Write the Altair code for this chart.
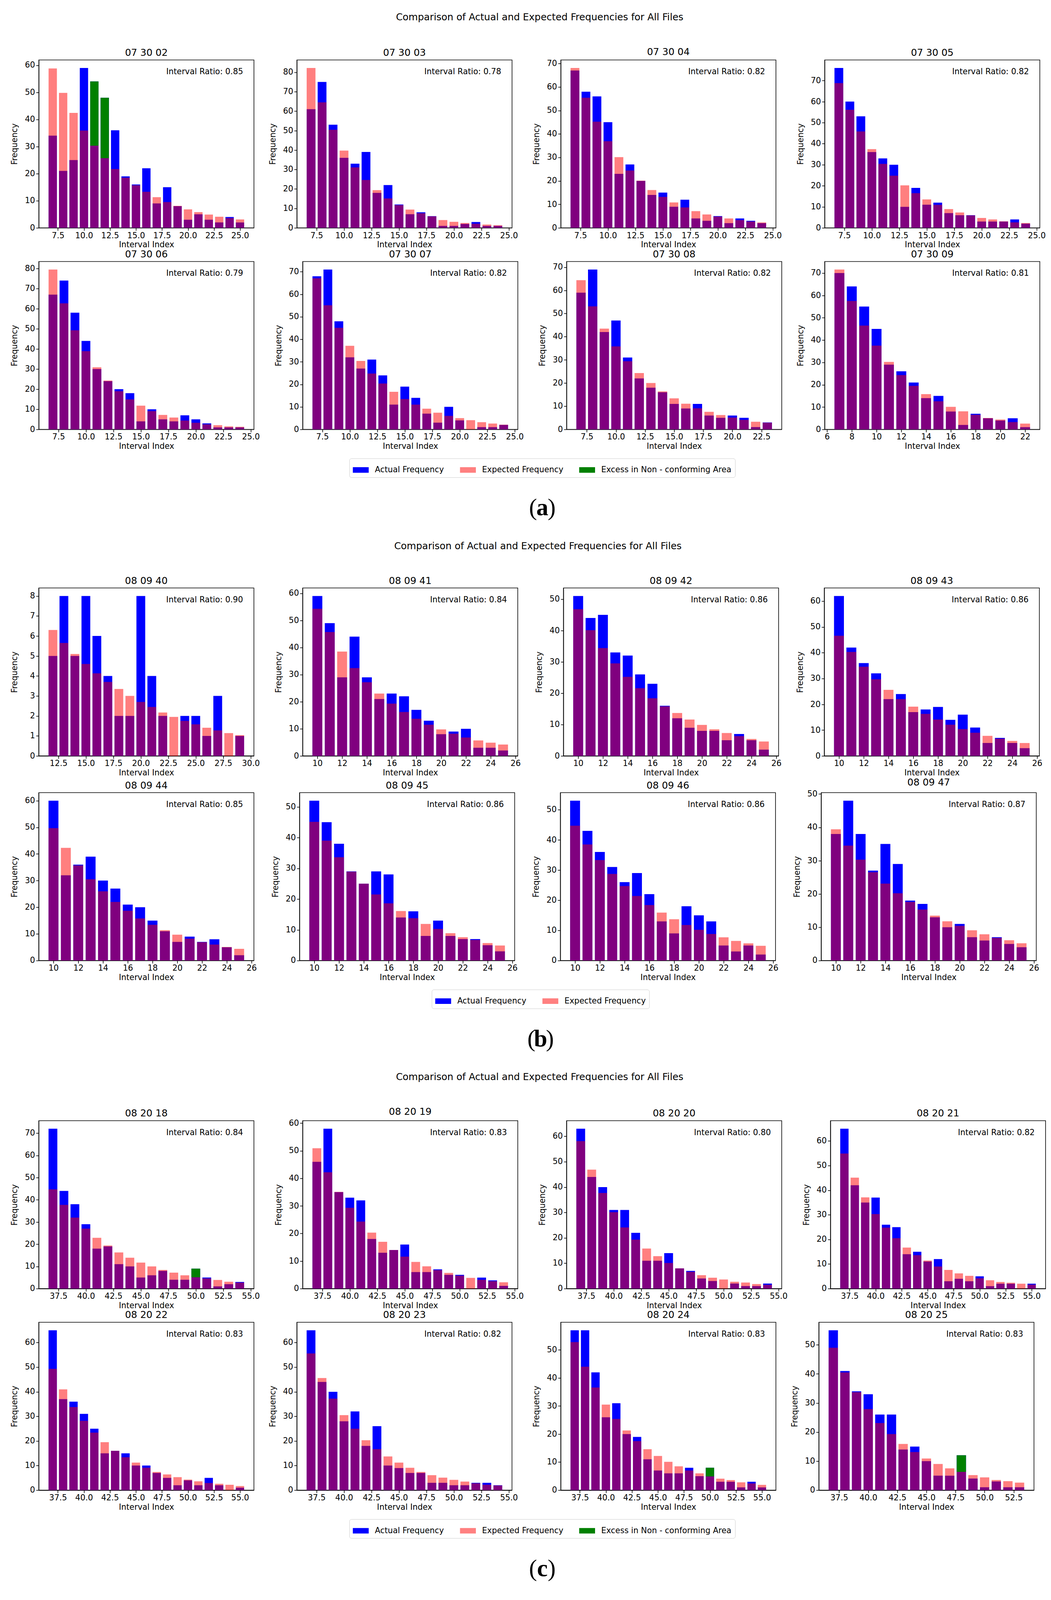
import altair as alt
import pandas as pd

FONT = "DejaVu Sans"
SUPTITLE = "Comparison of Actual and Expected Frequencies for All Files"

# ---------------- figure (a) ----------------
A_NAMES = ["07 30 02", "07 30 03", "07 30 04", "07 30 05", "07 30 06", "07 30 07", "07 30 08", "07 30 09"]
A_RATIOS = [0.85, 0.78, 0.82, 0.82, 0.79, 0.82, 0.82, 0.81]
A_START = [7, 7, 7, 7, 7, 7, 7, 7]
A_ACTUAL = [
    [34, 21, 25, 59, 54, 48, 36, 19, 16, 22, 9, 15, 8, 3, 5, 3, 2, 4, 2],
    [61, 75, 53, 36, 33, 39, 18, 22, 12, 7, 8, 6, 1, 1, 2, 3, 1, 1],
    [67, 58, 56, 45, 23, 27, 20, 14, 15, 9, 12, 4, 3, 5, 2, 4, 3, 2],
    [76, 60, 53, 36, 33, 30, 10, 19, 11, 12, 7, 6, 6, 3, 3, 3, 4, 2],
    [67, 74, 58, 44, 30, 24, 20, 18, 4, 10, 5, 4, 7, 5, 3, 1, 1, 1],
    [68, 71, 48, 32, 27, 31, 24, 11, 19, 14, 7, 3, 10, 4, 0, 1, 1, 2],
    [59, 69, 42, 47, 31, 22, 18, 16, 11, 9, 11, 6, 5, 6, 5, 1, 3],
    [70, 64, 55, 45, 29, 26, 21, 14, 15, 8, 2, 7, 5, 4, 5, 1],
]
A_EXPECTED = [
    [58.8, 49.8, 42.4, 35.9, 30.3, 25.7, 21.7, 18.5, 15.7, 13.3, 11.3, 9.5, 8.1, 6.8, 5.8, 4.9, 4.1, 3.6, 3.1],
    [82.2, 64.5, 50.4, 39.7, 31.1, 24.6, 19.4, 15.1, 11.7, 9.4, 7.5, 5.9, 4.0, 3.1, 2.5, 2.1, 1.7, 1.35],
    [68.1, 55.4, 45.2, 36.9, 30.1, 24.4, 20.1, 16.1, 13.2, 10.8, 8.7, 7.1, 5.7, 4.8, 4.0, 3.3, 2.7, 2.3],
    [68.8, 56.1, 45.8, 37.4, 30.4, 24.8, 20.2, 16.5, 13.5, 10.9, 8.9, 7.3, 5.9, 4.7, 4.0, 3.1, 2.6, 2.3],
    [79.5, 62.7, 49.3, 38.9, 30.9, 24.3, 19.0, 14.9, 11.8, 9.1, 7.2, 5.9, 4.4, 3.3, 2.5, 2.1, 1.5, 1.3],
    [67.1, 55.1, 45.1, 37.1, 30.4, 24.8, 20.4, 16.7, 13.5, 11.0, 9.2, 7.4, 6.0, 5.0, 4.1, 3.2, 2.6, 2.1],
    [64.4, 53.1, 43.5, 35.8, 29.4, 24.3, 20.0, 16.4, 13.4, 11.1, 9.1, 7.6, 6.2, 5.1, 4.1, 3.3, 2.9],
    [71.6, 57.5, 46.5, 37.5, 30.2, 24.3, 19.5, 15.8, 12.6, 10.1, 8.1, 6.5, 5.1, 4.4, 3.3, 2.6],
]
A_EXCESS = [[11, 12], [], [], [], [], [], [], []]
A_XTICKS = [[7.5, 10, 12.5, 15, 17.5, 20, 22.5, 25]] * 6 + [
    [7.5, 10, 12.5, 15, 17.5, 20, 22.5],
    [6, 8, 10, 12, 14, 16, 18, 20, 22],
]
A_LEGEND = ["Actual Frequency", "Expected Frequency", "Excess in Non - conforming Area"]

# ---------------- figure (b) ----------------
B_NAMES = ["08 09 40", "08 09 41", "08 09 42", "08 09 43", "08 09 44", "08 09 45", "08 09 46", "08 09 47"]
B_RATIOS = [0.90, 0.84, 0.86, 0.86, 0.85, 0.86, 0.86, 0.87]
B_START = [12, 10, 10, 10, 10, 10, 10, 10]
B_ACTUAL = [
    [5, 8, 5, 8, 6, 4, 2, 2, 8, 4, 2, 0, 2, 2, 1, 3, 0, 1],
    [59, 49, 29, 44, 29, 21, 23, 22, 17, 13, 8, 9, 10, 3, 3, 2],
    [51, 44, 45, 33, 32, 26, 23, 16, 12, 9, 8, 8, 5, 7, 5, 2],
    [62, 42, 36, 32, 22, 24, 17, 18, 19, 14, 16, 11, 5, 7, 5, 3],
    [60, 32, 36, 39, 30, 27, 21, 20, 15, 11, 7, 9, 7, 8, 5, 2],
    [52, 45, 38, 29, 25, 29, 28, 14, 16, 8, 13, 8, 7, 7, 5, 3],
    [53, 43, 36, 31, 26, 29, 22, 13, 9, 18, 15, 13, 5, 3, 5, 2],
    [38, 48, 38, 27, 35, 29, 18, 17, 13, 10, 11, 7, 6, 7, 5, 4],
]
B_EXPECTED = [
    [6.3, 5.65, 5.1, 4.6, 4.13, 3.7, 3.35, 3.0, 2.7, 2.45, 2.17, 1.95, 1.75, 1.58, 1.41, 1.28, 1.14, 1.04],
    [54.3, 45.7, 38.5, 32.4, 27.2, 23.0, 19.3, 16.2, 13.7, 11.5, 9.8, 8.2, 6.8, 5.7, 4.9, 4.2],
    [46.8, 40.1, 34.4, 29.5, 25.2, 21.6, 18.4, 15.8, 13.7, 11.6, 9.9, 8.5, 7.3, 6.3, 5.4, 4.6],
    [46.6, 40.3, 34.6, 29.7, 25.6, 22.0, 19.1, 16.3, 14.1, 12.1, 10.4, 9.0, 7.8, 6.7, 5.8, 5.0],
    [49.7, 42.3, 35.7, 30.5, 26.0, 22.0, 18.7, 15.8, 13.4, 11.4, 9.7, 8.2, 6.9, 6.0, 5.1, 4.4],
    [45.1, 39.0, 33.6, 28.9, 25.0, 21.5, 18.6, 16.1, 13.8, 11.9, 10.3, 8.9, 7.6, 6.7, 5.7, 4.9],
    [44.7, 38.5, 33.3, 28.7, 24.7, 21.4, 18.4, 15.9, 13.7, 11.8, 10.2, 8.8, 7.7, 6.5, 5.7, 4.9],
    [39.4, 34.5, 30.3, 26.5, 23.1, 20.2, 17.6, 15.3, 13.5, 11.8, 10.4, 9.1, 7.9, 6.8, 6.1, 5.2],
]
B_EXCESS = [[], [], [], [], [], [], [], []]
B_XTICKS = [[12.5, 15, 17.5, 20, 22.5, 25, 27.5, 30]] + [[10, 12, 14, 16, 18, 20, 22, 24, 26]] * 7
B_LEGEND = ["Actual Frequency", "Expected Frequency"]

# ---------------- figure (c) ----------------
C_NAMES = ["08 20 18", "08 20 19", "08 20 20", "08 20 21", "08 20 22", "08 20 23", "08 20 24", "08 20 25"]
C_RATIOS = [0.84, 0.83, 0.80, 0.82, 0.83, 0.82, 0.83, 0.83]
C_START = [37, 37, 37, 37, 37, 37, 37, 37]
C_ACTUAL = [
    [72, 44, 38, 29, 18, 19, 11, 10, 5, 6, 8, 4, 4, 9, 5, 1, 2, 3],
    [46, 58, 35, 33, 32, 18, 13, 14, 16, 6, 6, 7, 5, 5, 0, 4, 3, 1],
    [63, 44, 40, 31, 31, 22, 11, 11, 14, 8, 7, 4, 3, 0, 2, 1, 1, 2],
    [65, 42, 35, 37, 26, 25, 14, 15, 11, 12, 3, 4, 3, 5, 1, 2, 2, 0, 2],
    [65, 37, 36, 31, 25, 15, 16, 15, 10, 10, 7, 5, 2, 4, 2, 5, 2, 0, 1],
    [65, 44, 40, 28, 32, 18, 26, 10, 9, 7, 7, 3, 3, 2, 2, 3, 3, 2],
    [57, 57, 42, 26, 31, 20, 19, 11, 7, 6, 6, 8, 5, 8, 3, 3, 1, 3, 1],
    [55, 41, 34, 33, 26, 26, 14, 15, 10, 5, 5, 12, 4, 1, 3, 1, 1],
]
C_EXPECTED = [
    [44.7, 37.7, 32.0, 27.0, 22.9, 19.4, 16.3, 13.9, 11.7, 10.0, 8.4, 7.2, 6.0, 5.1, 4.6, 3.9, 3.1, 2.7],
    [50.9, 42.2, 35.1, 29.3, 24.3, 20.3, 17.0, 14.0, 11.6, 9.7, 8.1, 6.7, 5.7, 4.7, 3.9, 3.2, 2.7, 2.3],
    [58.1, 46.9, 37.7, 30.1, 24.1, 19.3, 15.8, 12.8, 10.1, 8.0, 6.6, 5.3, 4.3, 3.6, 2.7, 2.4, 1.8, 1.5],
    [54.9, 45.1, 37.1, 30.3, 24.8, 20.5, 16.7, 13.6, 11.4, 9.0, 7.6, 6.2, 5.2, 4.2, 3.4, 2.7, 2.4, 2.0, 1.6],
    [49.3, 41.0, 33.8, 28.2, 23.4, 19.5, 16.0, 13.4, 11.2, 9.1, 7.4, 6.4, 5.3, 4.3, 3.6, 2.9, 2.6, 2.2, 1.7],
    [55.6, 45.6, 37.2, 30.5, 25.0, 20.3, 16.7, 13.7, 11.2, 9.1, 7.4, 6.1, 5.1, 4.2, 3.5, 2.8, 2.2, 1.9],
    [52.8, 44.0, 36.6, 30.5, 25.4, 21.3, 17.5, 14.6, 12.2, 10.1, 8.5, 7.0, 6.0, 4.9, 4.1, 3.6, 2.8, 2.4, 1.9],
    [49.0, 40.5, 33.7, 27.9, 23.1, 19.3, 15.9, 13.1, 10.9, 9.0, 7.5, 6.3, 5.2, 4.4, 3.5, 3.1, 2.6],
]
C_EXCESS = [[50], [], [], [], [], [], [50], [48]]
C_XTICKS = [[37.5, 40, 42.5, 45, 47.5, 50, 52.5, 55]] * 7 + [[37.5, 40, 42.5, 45, 47.5, 50, 52.5]]
C_LEGEND = ["Actual Frequency", "Expected Frequency", "Excess in Non - conforming Area"]

LEGEND_COLORS = ["#0000ff", "#ff8080", "#008000"]

W, H = 556, 434
FS = 20.7
TAG_H = 118


def panel(name, ratio, start, actual, expected, excess, xticks):
    idx = list(range(start, start + len(actual)))
    df = pd.DataFrame({"idx": idx, "actual": actual, "expected": expected,
                       "excess": [i in excess for i in idx]})
    lo, hi = idx[0] - 0.4, idx[-1] + 0.4
    pad = 0.05 * (hi - lo)
    ymax = max(max(actual), max(expected)) * 1.05
    ystep = 1 if ymax < 15 else 10
    yticks = list(range(0, int(ymax) + 1, ystep))
    xfmt = ".1f" if any(t != int(t) for t in xticks) else "d"
    xs = alt.Scale(domain=[lo - pad, hi + pad], nice=False, zero=False)
    ys = alt.Scale(domain=[0, ymax], nice=False, zero=True)
    xax = alt.Axis(values=xticks, format=xfmt, title="Interval Index")
    yax = alt.Axis(values=yticks, format="d", title="Frequency")
    base = alt.Chart(df).transform_calculate(x0="datum.idx - 0.4", x1="datum.idx + 0.4", z="0")
    X = alt.X("x0:Q", scale=xs, axis=xax)
    blue = base.mark_rect(color="#0000ff", strokeWidth=0).encode(
        x=X, x2="x1:Q", y=alt.Y("actual:Q", scale=ys, axis=yax), y2="z:Q")
    green = base.transform_filter("datum.excess").mark_rect(color="#008000", strokeWidth=0).encode(
        x=X, x2="x1:Q", y=alt.Y("actual:Q", scale=ys, axis=yax), y2="expected:Q")
    red = base.mark_rect(color="#ff0000", opacity=0.5, strokeWidth=0).encode(
        x=X, x2="x1:Q", y=alt.Y("expected:Q", scale=ys, axis=yax), y2="z:Q")
    txt = alt.Chart(pd.DataFrame({"t": [f"Interval Ratio: {ratio:.2f}"]})).mark_text(
        align="right", baseline="top", font=FONT, fontSize=FS, color="black"
    ).encode(text="t:N", x=alt.value(W - 28), y=alt.value(21))
    return alt.layer(blue, green, red, txt).properties(
        width=W, height=H,
        title=alt.TitleParams(name, fontSize=24.8, font=FONT, fontWeight="normal",
                              anchor="middle", offset=6, color="black"))


def legend_chart(labels):
    return alt.Chart(pd.DataFrame({"series": labels})).mark_square(opacity=0, size=1).encode(
        x=alt.value(0), y=alt.value(0),
        color=alt.Color("series:N",
                        scale=alt.Scale(domain=labels, range=LEGEND_COLORS[:len(labels)]),
                        legend=alt.Legend(orient="none", legendX=0, legendY=0,
                                          direction="horizontal", title=None,
                                          labelFont=FONT, labelFontSize=FS, labelColor="black",
                                          labelLimit=600, labelOffset=16,
                                          symbolType="M-1,-0.35H1V0.35H-1Z", symbolSize=41 * 41,
                                          symbolOpacity=1, symbolStrokeWidth=0,
                                          columnPadding=41, padding=9,
                                          strokeColor="#cccccc", cornerRadius=5,
                                          fillColor="white"))
    ).properties(width=1, height=42, view=alt.ViewBackground(strokeOpacity=0))


def tag_chart(letter):
    df = pd.DataFrame({"t": ["(", letter, ")"], "w": ["normal", "bold", "normal"],
                       "k": [0, 1, 2]})
    base = alt.Chart(df)
    xk = alt.X("k:O", axis=None, scale=alt.Scale(paddingOuter=0.2))
    paren = base.transform_filter("datum.w == 'normal'").mark_text(
        font="Liberation Serif", fontSize=62, color="black", baseline="middle", align="center"
    ).encode(text="t:N", x=xk, y=alt.value(TAG_H / 2))
    bold = base.transform_filter("datum.w == 'bold'").mark_text(
        font="Liberation Serif", fontSize=62, fontWeight="bold", color="black",
        baseline="middle", align="center"
    ).encode(text="t:N", x=xk, y=alt.value(TAG_H / 2))
    return alt.layer(paren, bold).properties(
        width=72, height=TAG_H, view=alt.ViewBackground(strokeOpacity=0))


def section(names, ratios, starts, actual, expected, excess, xticks, legend_labels, letter):
    ps = [panel(names[i], ratios[i], starts[i], actual[i], expected[i], excess[i], xticks[i])
          for i in range(8)]
    row1 = alt.hconcat(*ps[:4], spacing=36)
    row2 = alt.hconcat(*ps[4:], spacing=36)
    grid = alt.vconcat(row1, row2, spacing=0)
    return alt.vconcat(grid, legend_chart(legend_labels), tag_chart(letter),
                       spacing=19, center=True).properties(
        title=alt.TitleParams(SUPTITLE, fontSize=24.8, font=FONT, fontWeight="normal",
                              anchor="middle", offset=64, color="black", dx=30)
    ).resolve_scale(color="independent", x="independent").resolve_legend(color="independent")


secA = section(A_NAMES, A_RATIOS, A_START, A_ACTUAL, A_EXPECTED, A_EXCESS, A_XTICKS, A_LEGEND, "a")
secB = section(B_NAMES, B_RATIOS, B_START, B_ACTUAL, B_EXPECTED, B_EXCESS, B_XTICKS, B_LEGEND, "b")
secC = section(C_NAMES, C_RATIOS, C_START, C_ACTUAL, C_EXPECTED, C_EXCESS, C_XTICKS, C_LEGEND, "c")

chart = alt.vconcat(secA, secB, secC, spacing=27).resolve_scale(
    color="independent").resolve_legend(color="independent").properties(
    padding={"left": 18, "top": 4, "right": 5, "bottom": 0}, background="white"
).configure_axis(
    labelFont=FONT, titleFont=FONT, labelFontSize=FS, titleFontSize=FS,
    titleFontWeight="normal", labelColor="black", titleColor="black",
    tickColor="black", domainColor="black", tickSize=7, tickWidth=1.6,
    domainWidth=1.6, grid=False, labelPadding=3, labelFlush=False, labelOverlap=False
).configure_axisY(minExtent=40, maxExtent=40, titlePadding=12
).configure_axisX(titlePadding=4
).configure_view(stroke="black", strokeWidth=1.6)

chart.save("out.html", embed_options={"renderer": "svg", "actions": False})
